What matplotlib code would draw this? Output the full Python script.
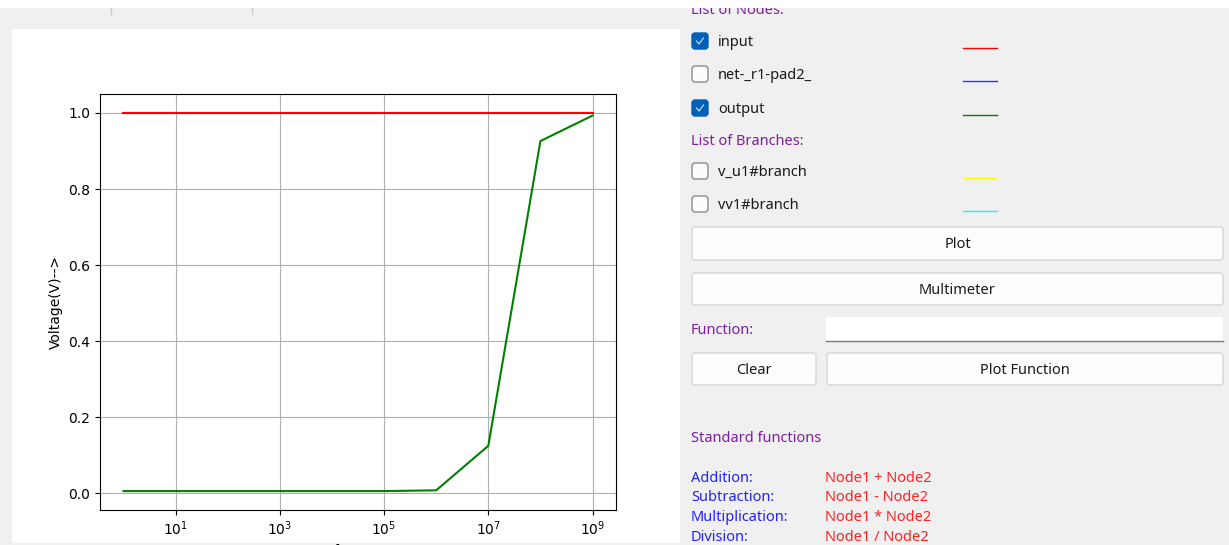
import matplotlib
matplotlib.use("Agg")
import matplotlib.pyplot as plt
from matplotlib.patches import Rectangle, FancyBboxPatch

# ac analysis data
freq = [1, 10, 100, 1e3, 1e4, 1e5, 1e6, 1e7, 1e8, 1e9]
v_input = [1.0, 1.0, 1.0, 1.0, 1.0, 1.0, 1.0, 1.0, 1.0, 1.0]
v_output = [0.006, 0.006, 0.006, 0.006, 0.006, 0.006, 0.008, 0.125, 0.926, 0.993]

node_names = ["input", "net-_r1-pad2_", "output"]
node_checked = [True, False, True]
node_colors = ["#ff0000", "#3333ff", "#008000"]
branch_names = ["v_u1#branch", "vv1#branch"]
branch_checked = [False, False]
branch_colors = ["#ffff00", "#00ffff"]
func_names = ["Addition:", "Subtraction:", "Multiplication:", "Division:"]
func_exprs = ["Node1 + Node2", "Node1 - Node2", "Node1 * Node2", "Node1 / Node2"]

W, H = 1229, 545
BG = "#f0f0f0"
PURPLE = "#7d1fa0"
UI_FONT = "Noto Sans"

fig = plt.figure(figsize=(W / 100, H / 100), dpi=100, facecolor=BG)

# overlay axes in pixel units (y down) for the window widgets
ui = fig.add_axes([0, 0, 1, 1], zorder=0)
ui.set_xlim(0, W)
ui.set_ylim(H, 0)
ui.axis("off")

# white plot canvas + top strip
ui.add_patch(Rectangle((12, 29), 668, 514, facecolor="white", edgecolor="none", zorder=1))
ui.add_patch(Rectangle((0, 0), W, 8, facecolor="white", edgecolor="none", zorder=5))
for sx in [111, 252]:
    ui.plot([sx, sx], [8, 14], color="#c8c8c8", lw=1, zorder=2)


def ui_text(x, y, s, color="#1a1a1a", ha="left", size=10.5):
    # +1.5 px so the glyphs sit like the Qt labels
    ui.text(x, y + 1.5, s, color=color, ha=ha, va="center", fontsize=size,
            family=UI_FONT, zorder=3)


def checkbox(x, y, checked):
    if checked:
        ui.add_patch(FancyBboxPatch((x, y - 8), 16, 16, boxstyle="round,pad=0,rounding_size=3",
                                    facecolor="#005fb8", edgecolor="#005fb8", zorder=2))
        ui.plot([x + 4.5, x + 7, x + 11.5], [y, y + 3, y - 3], color="#d8e6f5", lw=0.8, zorder=3)
    else:
        ui.add_patch(FancyBboxPatch((x, y - 8), 16, 16, boxstyle="round,pad=0,rounding_size=3",
                                    facecolor="#fbfbfb", edgecolor="#8a8a8a", lw=1, zorder=2))


def button(x, y, w, h, label):
    ui.add_patch(FancyBboxPatch((x, y), w, h, boxstyle="round,pad=0,rounding_size=3",
                                facecolor="#fdfdfd", edgecolor="#d6d6d6", lw=1, zorder=2))
    ui_text(x + w / 2, y + h / 2, label, ha="center")


ui_text(691, 9, "List of Nodes:", color=PURPLE)
node_y = [41, 74, 108]
for name, chk, col, yy in zip(node_names, node_checked, node_colors, node_y):
    checkbox(692, yy, chk)
    ui_text(718, yy, name)
    ui.plot([963, 997], [yy + 7, yy + 7], color=col, lw=1, zorder=3)

ui_text(691, 140, "List of Branches:", color=PURPLE)
branch_y = [171, 204]
for name, chk, col, yy in zip(branch_names, branch_checked, branch_colors, branch_y):
    checkbox(692, yy, chk)
    ui_text(718, yy, name)
    ui.plot([963, 997], [yy + 7, yy + 7], color=col, lw=1, zorder=3)

button(692, 227, 531, 33, "Plot")
button(692, 273, 531, 32, "Multimeter")
ui_text(691, 329, "Function:", color=PURPLE)
ui.add_patch(Rectangle((826, 317), 397, 24, facecolor="white", edgecolor="none", zorder=2))
ui.plot([826, 1223], [341, 341], color="#7a7a7a", lw=1, zorder=3)
button(692, 353, 124, 32, "Clear")
button(827, 353, 396, 32, "Plot Function")

ui_text(691, 437, "Standard functions", color=PURPLE)
func_y = [477, 496, 516, 536]
for name, expr, yy in zip(func_names, func_exprs, func_y):
    ui_text(691, yy, name, color="#2222ff")
    ui_text(825, yy, expr, color="#ff2222")

# the actual matplotlib plot
ax = fig.add_axes([100 / W, (H - 510) / H, 516 / W, 416 / H], zorder=2)
ax.semilogx(freq, v_input, color="red", lw=1.5)
ax.semilogx(freq, v_output, color="green", lw=1.5)
ax.grid(True)
ax.set_ylabel("Voltage(V)-->")
ax.set_xlabel("freq-->")
ax.set_xticks([10, 1e3, 1e5, 1e7, 1e9])
ax.minorticks_off()

fig.savefig("out.png", dpi=100, facecolor=BG)
